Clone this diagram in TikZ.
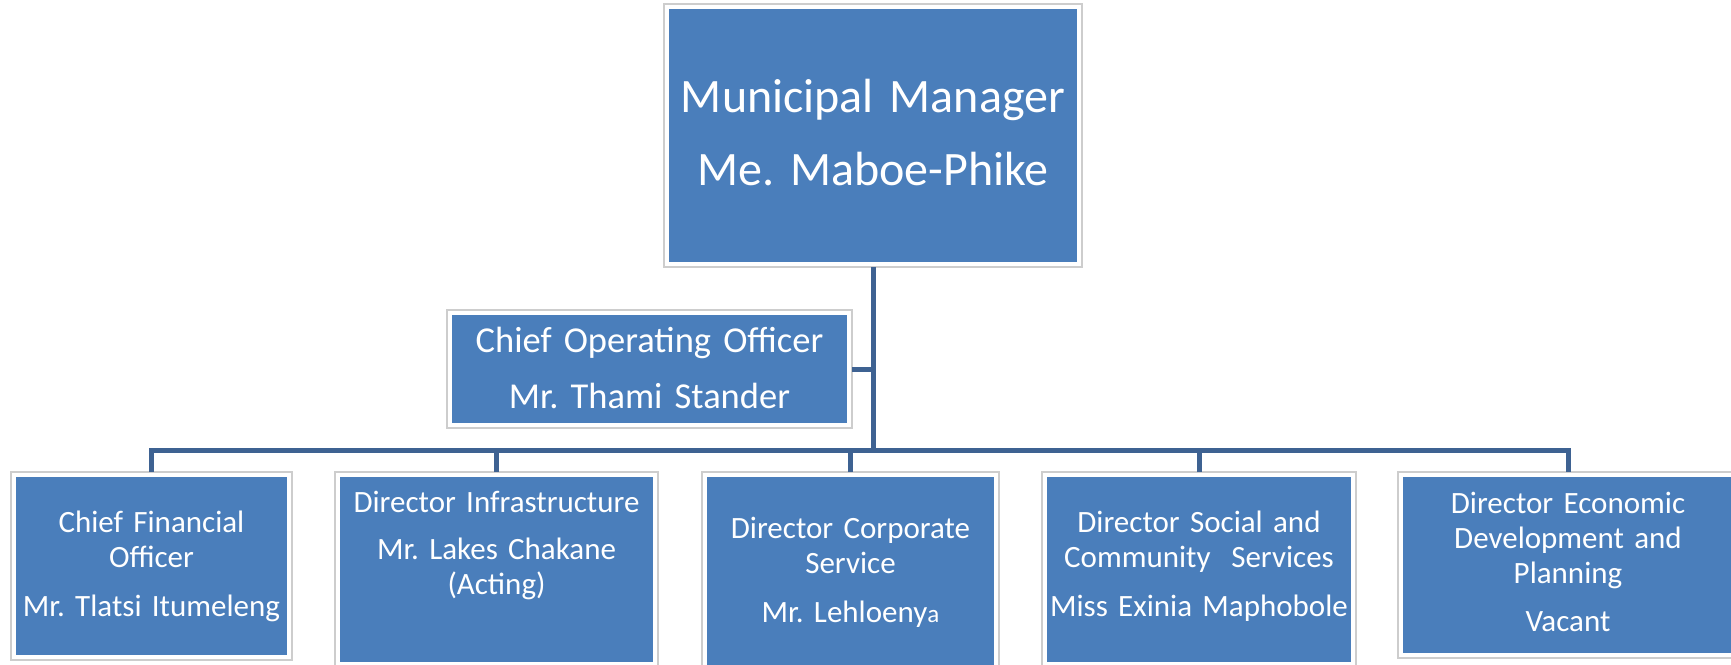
\documentclass[tikz,border=0pt]{standalone}
\usepackage{fontspec}
\setmainfont{Carlito}
\usetikzlibrary{fit}
\definecolor{boxblue}{RGB}{74,126,187}
\definecolor{linkblue}{RGB}{62,98,146}
\definecolor{framegray}{RGB}{205,205,205}
\newcommand{\fsz}[2]{\fontsize{#1pt}{#2pt}\selectfont}
\frenchspacing
\begin{document}
\begin{tikzpicture}[x=1pt,y=-1pt,
  box/.style={fill=boxblue, draw=none, inner sep=0pt, outer sep=0pt},
  boxframe/.style={draw=framegray, line width=1.2pt, inner sep=5pt, outer sep=0pt},
  link/.style={draw=linkblue, line width=5pt},
  lbl/.style={text=white, align=center, anchor=base, inner sep=0pt},
  bigtxt/.style={lbl, font=\fsz{48}{58.5}},
  midtxt/.style={lbl, font=\fsz{36.5}{44.5}},
  smalltxt/.style={lbl, font=\fsz{31}{35}},
]
\useasboundingbox (0,0) rectangle (1731,664);
\clip (0,0) rectangle (1731,664);

% boxes
\node[box, minimum width=408pt, minimum height=253pt] (mm)   at (873,135.5) {};
\node[box, minimum width=395pt, minimum height=108pt] (coo)  at (649.5,369) {};
\node[box, minimum width=271pt, minimum height=178pt] (cfo)  at (151.5,566) {};
\node[box, minimum width=313pt, minimum height=185pt] (di)   at (496.5,569.5) {};
\node[box, minimum width=287pt, minimum height=198pt] (dcs)  at (850.5,576) {};
\node[box, minimum width=304pt, minimum height=185pt] (dscs) at (1199,569.5) {};
\node[box, minimum width=330pt, minimum height=176pt] (dedp) at (1568,565) {};

% outer frames
\node[boxframe, fit=(mm)]   (mmf)   {};
\node[boxframe, fit=(coo)]  (coof)  {};
\node[boxframe, fit=(cfo)]  (cfof)  {};
\node[boxframe, fit=(di)]   (dif)   {};
\node[boxframe, fit=(dcs)]  (dcsf)  {};
\node[boxframe, fit=(dscs)] (dscsf) {};
\node[boxframe, fit=(dedp)] (dedpf) {};

% labels
\node[bigtxt, text width=400pt] (mm-t) at (873,112)
  {Municipal Manager\\[14.5pt]Me. Maboe-Phike};
\node[midtxt, text width=390pt] (coo-t) at (649.5,352)
  {Chief Operating Officer\\[11.5pt]Mr. Thami Stander};
\node[smalltxt, text width=271pt] (cfo-t) at (151.5,532)
  {Chief Financial\\Officer\\[14pt]Mr. Tlatsi Itumeleng};
\node[smalltxt, text width=313pt] (di-t) at (496.5,512)
  {Director Infrastructure\\[12pt]Mr. Lakes Chakane\\(Acting)};
\node[smalltxt, text width=287pt] (dcs-t) at (850.5,538)
  {Director Corporate\\Service\\[14pt]Mr. Lehloeny{\fsz{25}{35}a}};
\node[smalltxt, text width=304pt] (dscs-t) at (1199,532)
  {Director Social and\\Community\ \ Services\\[14pt]Miss Exinia Maphobole};
\node[smalltxt, text width=330pt] (dedp-t) at (1568,513)
  {Director Economic\\Development and\\Planning\\[13pt]Vacant};

% connectors
\coordinate (bus) at (873,450);
\draw[link] (mmf.south) -- (bus);
\draw[link] (coof.east) -- (coof.east -| bus);
\draw[link] (cfof.north) |- (bus) -| (dedpf.north);
\draw[link] (dif.north) -- (dif.north |- bus);
\draw[link] (dcsf.north) -- (dcsf.north |- bus);
\draw[link] (dscsf.north) -- (dscsf.north |- bus);
\end{tikzpicture}
\end{document}
